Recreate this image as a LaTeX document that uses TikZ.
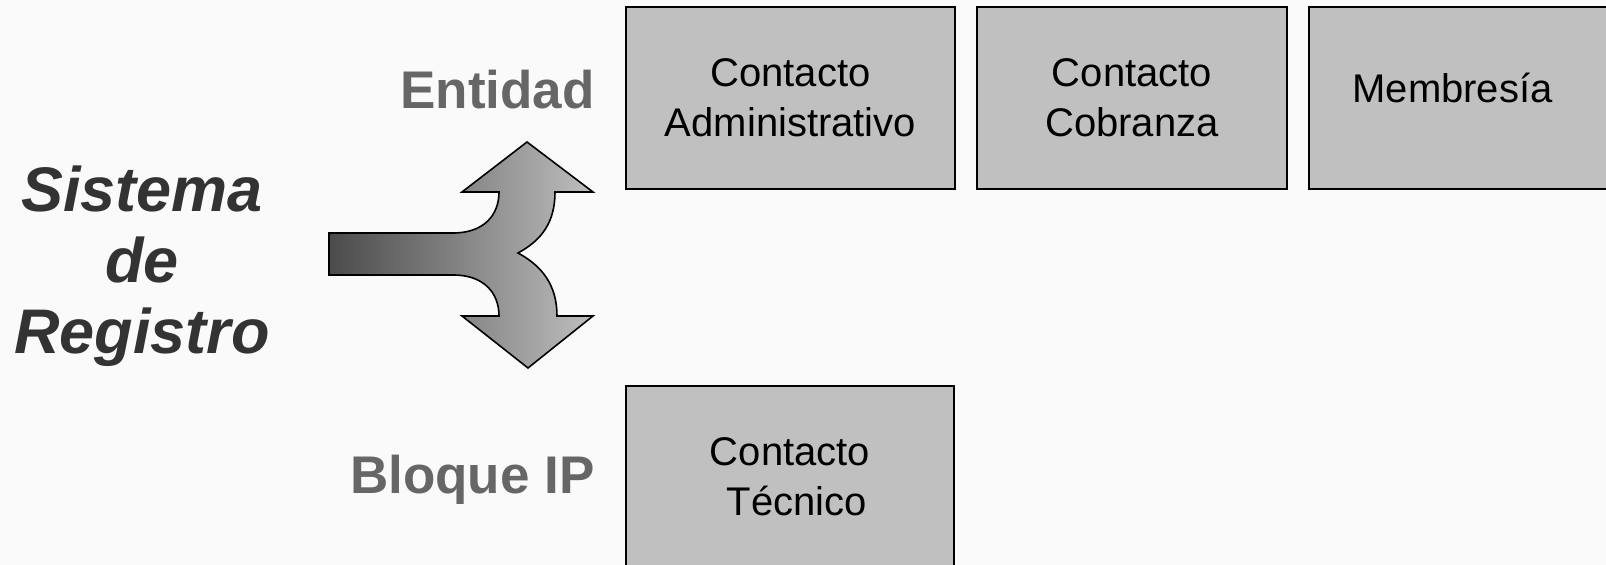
\documentclass[tikz,border=0pt]{standalone}
\usepackage{fontspec}
\setmainfont{Liberation Sans}
\definecolor{bgc}{HTML}{FAFAFA}
\definecolor{boxfill}{HTML}{C0C0C0}
\definecolor{labgray}{HTML}{666666}
\definecolor{titlegray}{HTML}{333333}
\definecolor{arrdark}{HTML}{4B4B4B}
\definecolor{arrmid}{HTML}{A2A2A2}
\definecolor{arrlight}{HTML}{BEBEBE}
\begin{document}
\begin{tikzpicture}[x=0.5pt,y=-0.5pt,
  regbox/.style={draw=black, line width=0.8pt, fill=boxfill, rectangle, inner sep=0pt,
    minimum width=#1*0.5pt, minimum height=91pt, align=center,
    font=\fontsize{20pt}{25pt}\selectfont},
  sidelabel/.style={font=\fontsize{26.5pt}{31pt}\selectfont\bfseries, text=labgray, inner sep=0pt},
  titlelabel/.style={font=\fontsize{31.5pt}{35.5pt}\selectfont\bfseries\itshape, text=titlegray, align=center, inner sep=0pt}]
\useasboundingbox (0,0) rectangle (1606,565);
\fill[bgc] (0,0) rectangle (1606,565);

% boxes
\node[regbox=329] (adm) at (790.5,98) {Contacto\\Administrativo};
\node[regbox=310] (cob) at (1132,98) {Contacto\\Cobranza};
\node[regbox=311, text height=14pt, text depth=9pt] (mem) at (1464.5,98) {Membresía\hspace*{12pt}};
\node[regbox=328] (tec) at (790,477) {Contacto\\\hspace*{7pt}Técnico};

% labels
\node[sidelabel, anchor=base east] (ent) at (595,108.5) {Entidad};
\node[sidelabel, anchor=base east] (blq) at (595,494) {Bloque IP};
\node[titlelabel] (sis) at (142,266) {Sistema\\de\\Registro};

% split arrow
\shadedraw[left color=arrdark, middle color=arrmid, right color=arrlight, draw=black, line width=0.8pt, line join=miter]
  (329,233) -- (453,233) .. controls (484,233) and (499,215) .. (499,192)
  -- (462,192) -- (527,142) -- (593,192) -- (555,192)
  .. controls (555,222) and (542,240) .. (518,253)
  .. controls (542,266) and (557,285) .. (557,316)
  -- (593,316) -- (528,368) -- (462,316) -- (499,316)
  .. controls (499,293) and (484,275) .. (453,275)
  -- (329,275) -- cycle;
\end{tikzpicture}
\end{document}
